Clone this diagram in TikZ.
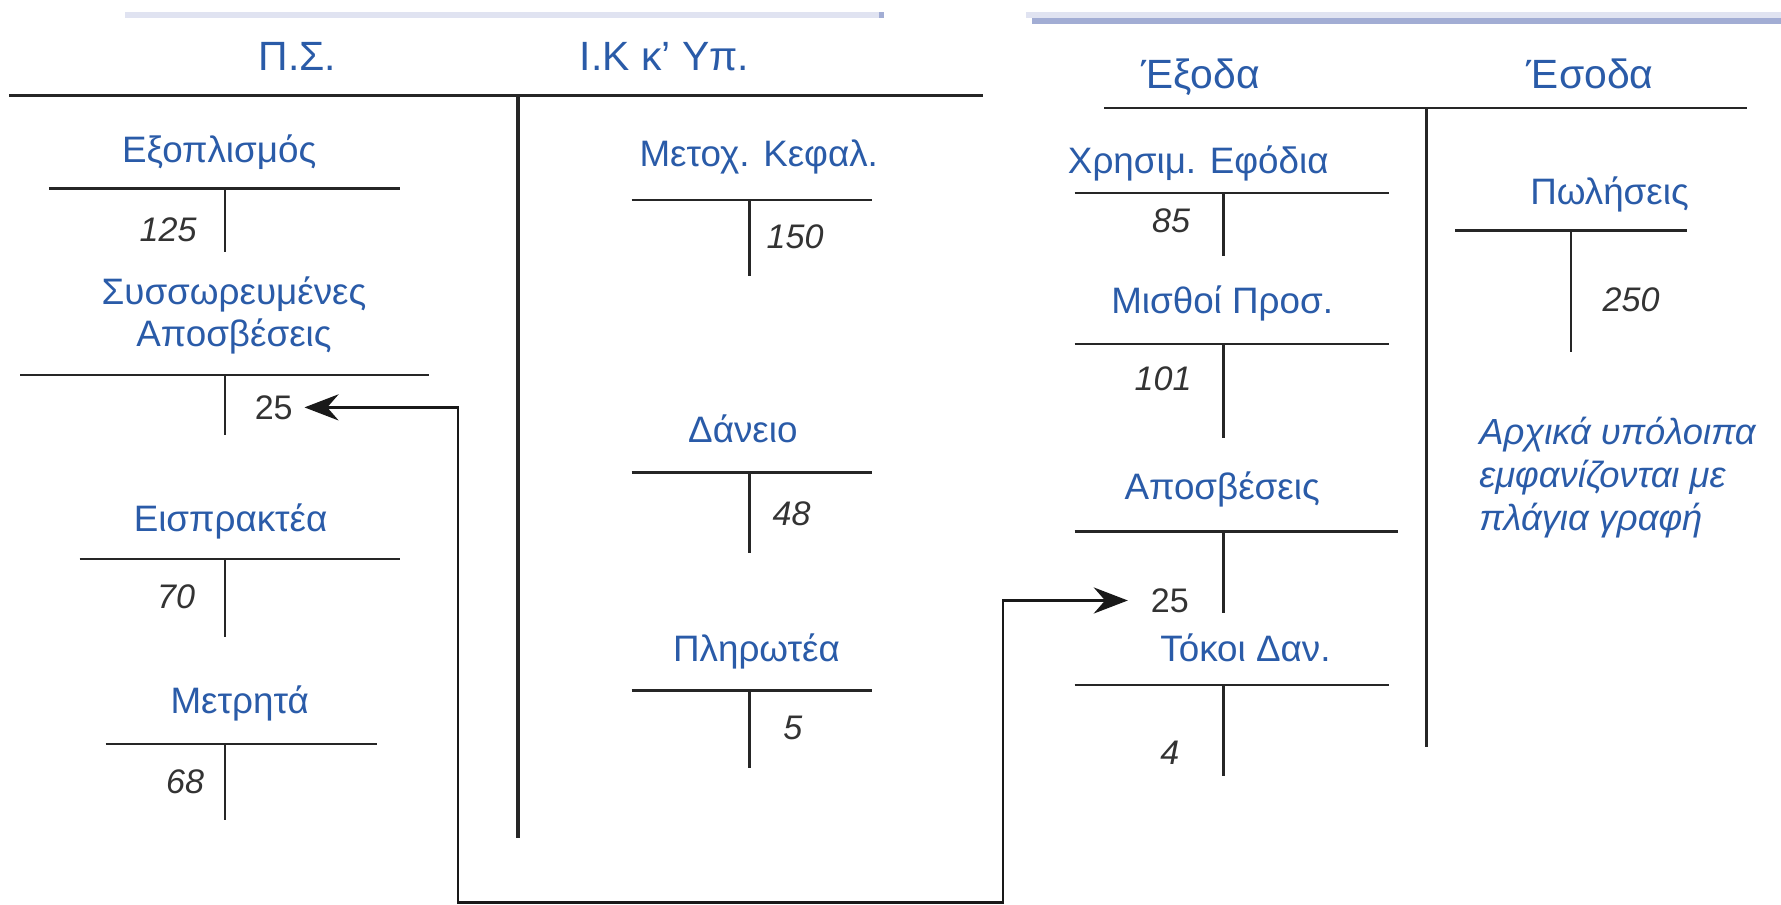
\documentclass[tikz,border=0pt]{standalone}
\usepackage{fontspec}
\setmainfont{Liberation Sans}
\usepackage{tikz}
\usetikzlibrary{arrows.meta}
\definecolor{acctblue}{RGB}{42,91,168}
\definecolor{barlight}{RGB}{224,227,241}
\definecolor{bardark}{RGB}{162,173,212}

\begin{document}
\begin{tikzpicture}[x=0.5pt,y=-0.5pt,
hdr/.style={text=acctblue,font=\fontsize{18}{21}\selectfont,anchor=base,inner sep=0pt},
lbl/.style={text=acctblue,font=\fontsize{16.2}{18.5}\selectfont,anchor=base,inner sep=0pt,align=center},
num/.style={text=black!80,font=\fontsize{15}{17}\selectfont\itshape,anchor=base,inner sep=0pt},
numup/.style={num,font=\fontsize{15}{17}\selectfont,inner xsep=5pt},
acc/.style={line width=1.1pt,black!85},
main/.style={line width=1.4pt,black!85},
link/.style={line width=1.1pt,black!90,{Stealth[length=15pt,width=11.5pt,inset=5pt]}-{Stealth[length=15pt,width=11.5pt,inset=5pt]},shorten >=5pt}]
\useasboundingbox (0,0) rectangle (1568,796);
\fill[barlight] (110,11) rectangle (778,16);
\fill[bardark] (774,11) rectangle (778,16);
\fill[barlight] (903,10.5) rectangle (1568,16);
\fill[bardark] (909,15.5) rectangle (1568,21);
\node[hdr] (ps) at (262,62.5) {Π.Σ.};
\node[hdr] (eql) at (585,62.5) {Ι.Κ κ’ Υπ.};
\node[hdr] (expn) at (1057,78) {Έξοδα};
\node[hdr] (revn) at (1400,78) {Έσοδα};
\draw[main] (8,84) -- (865,84) (456,84) -- (456,738);
\draw[acc] (972,95) -- (1538,95) (1256,95) -- (1256,658);
\foreach \nm/\ttl/\tx/\ty/\hl/\hr/\hy/\vx/\vb/\val/\nx/\ny/\st in %
{equip/Εξοπλισμός/193/143.5/43/352/166/198/222/125/148/213/num,
 accDep/Συσσωρευμένες\\Αποσβέσεις/206/305/18/378/330/198/383/25/241/369/numup,
 recv/Εισπρακτέα/203/468/70/352/492/198/561/70/155/536/num,
 cash/Μετρητά/211/628/93/332/655/198/722/68/163/699/num,
 equity/Μετοχ. Κεφαλ./668/146.7/556/768/176/660/243/150/700/219/num,
 loan/Δάνειο/654/390/556/768/416/660/487/48/697/463/num,
 pay/Πληρωτέα/666/582/556/768/608/660/676/5/698/651/num,
 supp/Χρησιμ. Εφόδια/1055/152.5/946/1223/170/1077/225/85/1031/205/num,
 wage/Μισθοί Προσ./1076/276/946/1223/303/1077/386/101/1024/344/num,
 depr/Αποσβέσεις/1076/440/946/1231/468/1077/540/25/1030/539/numup,
 intr/Τόκοι Δαν./1096.5/582.5/946/1223/603/1077/683/4/1030/673/num,
 sales/Πωλήσεις/1417/180/1281/1485/203/1383/310/250/1436/274/num} {
   \node[lbl] (\nm) at (\tx,\ty) {\ttl};
   \draw[acc] (\hl,\hy) -- (\hr,\hy) (\vx,\hy) -- (\vx,\vb);
   \node[\st] (\nm-v) at (\nx,\ny) {\val};
}
\node[lbl,font=\fontsize{16}{19}\selectfont\itshape,align=left,anchor=base west] (note) at (1302,467) {Αρχικά υπόλοιπα\\εμφανίζονται με\\πλάγια γραφή};
\coordinate (loopL) at (403,794.5);
\coordinate (loopR) at (883,794.5);
\draw[link] (accDep-v.east) -| (loopL) -- (loopR) |- (depr-v.west);
\end{tikzpicture}
\end{document}
